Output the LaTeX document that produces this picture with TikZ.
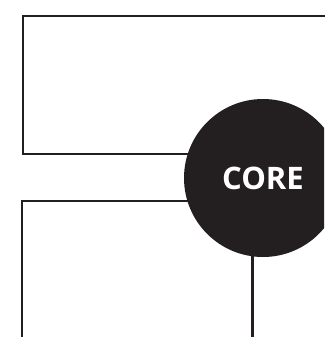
\documentclass[tikz,border=0pt]{standalone}
\usepackage{fontspec}
\setmainfont{Open Sans}
\usetikzlibrary{backgrounds}
\definecolor{ink}{HTML}{231F20}
\tikzset{
  wire/.style={draw=ink, line width=2.3pt},
  corenode/.style={circle, fill=ink, minimum size=158pt, inner sep=0pt, text=white, font=\bfseries\fontsize{31}{31}\selectfont}
}
\begin{document}
\begin{tikzpicture}[x=1pt,y=-1pt]
\useasboundingbox (0,0) rectangle (324,337);
\clip (0,0) rectangle (324,337);
\node[corenode] (core) at (263,178) {CORE};
\coordinate (tr) at (340,16);
\coordinate (tl) at (23,16);
\coordinate (bl) at (23,154);
\coordinate (ml) at (22,201);
\coordinate (mb) at (22,345);
\coordinate (vb) at (252.5,345);
\begin{scope}[on background layer]
\draw[wire] (tr) -- (tl) -- (bl) -- (bl -| core.center);
\draw[wire] (mb) -- (ml) -- (ml -| core.center);
\draw[wire] (vb) -- (vb |- core.center);
\end{scope}
\end{tikzpicture}
\end{document}
